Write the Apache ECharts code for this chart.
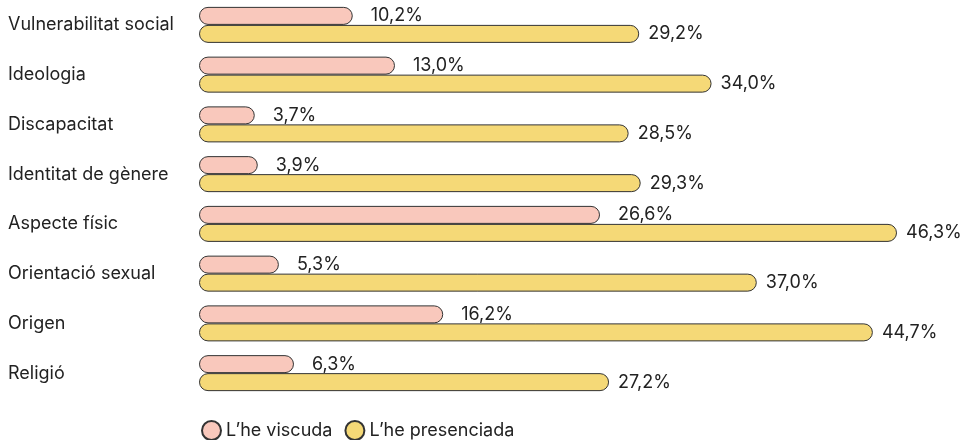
<!DOCTYPE html>
<html>
<head>
<meta charset="utf-8">
<script src="https://cdn.jsdelivr.net/npm/echarts@6/dist/echarts.min.js"></script>
<style>
  html, body { margin: 0; padding: 0; background: #fff; }
  #chart { width: 970px; height: 440px; }
</style>
</head>
<body>
<div id="chart"></div>
<script>
const categories = ['Vulnerabilitat social', 'Ideologia', 'Discapacitat', 'Identitat de gènere',
  'Aspecte físic', 'Orientació sexual', 'Origen', 'Religió'];
const viscuda = [10.2, 13.0, 3.7, 3.9, 26.6, 5.3, 16.2, 6.3];
const presenciada = [29.2, 34.0, 28.5, 29.3, 46.3, 37.0, 44.7, 27.2];
const seriesNames = ['L\u2019he viscuda', 'L\u2019he presenciada'];

const font = 'Inter, "Noto Sans", sans-serif';
const fmt = p => p.value.toFixed(1).replace('.', ',') + '%';

const chart = echarts.init(document.getElementById('chart'));
chart.setOption({
  animation: false,
  textStyle: { fontFamily: font },
  grid: { left: 199, right: 73, top: 0, height: 398 },
  legend: {
    top: 418, left: 196,
    padding: [2, 5],
    itemWidth: 19, itemHeight: 19, itemGap: 12,
    icon: 'circle',
    textStyle: { fontSize: 18, color: '#222', fontFamily: font },
    data: seriesNames
  },
  xAxis: { type: 'value', min: 0, max: 46.3, show: false },
  yAxis: {
    type: 'category', data: categories, inverse: true,
    axisLine: { show: false }, axisTick: { show: false },
    axisLabel: { align: 'left', margin: 191, fontSize: 18, color: '#222', fontFamily: font }
  },
  series: [
    {
      name: seriesNames[0], type: 'bar', data: viscuda,
      barWidth: 18, barGap: '0%',
      itemStyle: { color: '#f9c8bc', borderColor: '#333', borderWidth: 1, borderRadius: 9 },
      label: { show: true, position: 'right', distance: 18, fontSize: 18, color: '#222', formatter: fmt }
    },
    {
      name: seriesNames[1], type: 'bar', data: presenciada,
      barWidth: 18,
      itemStyle: { color: '#f5d977', borderColor: '#333', borderWidth: 1, borderRadius: 9 },
      label: { show: true, position: 'right', distance: 9, fontSize: 18, color: '#222', formatter: fmt }
    }
  ]
});
</script>
</body>
</html>
